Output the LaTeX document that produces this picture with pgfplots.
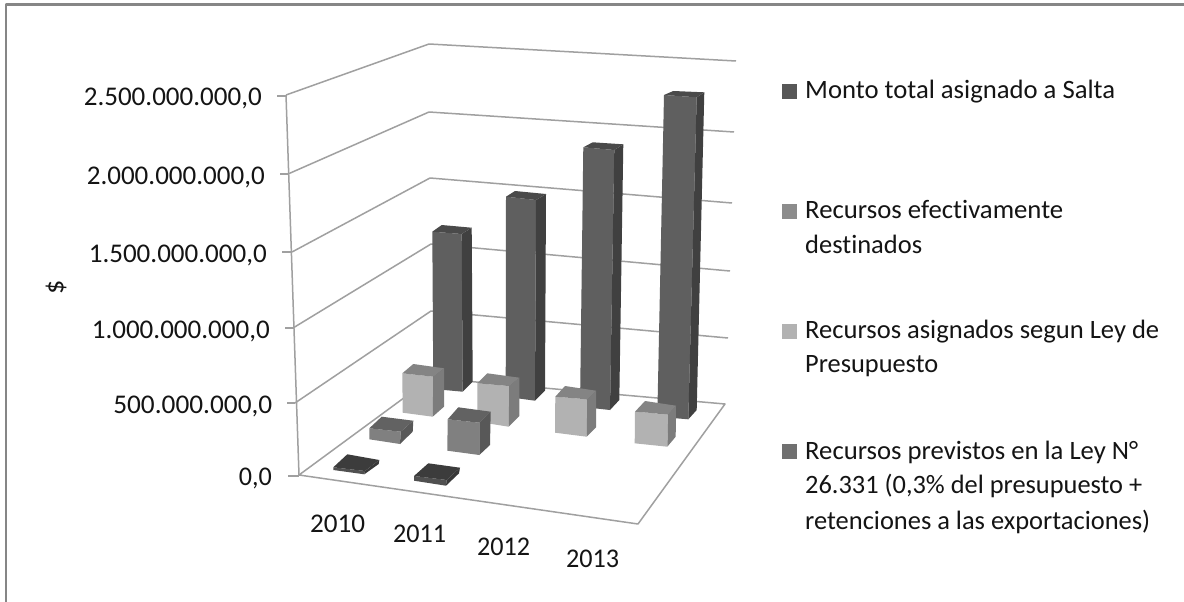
\documentclass[border=0pt]{standalone}
\usepackage{graphicx}
\usepackage{pgfplots}
\pgfplotsset{compat=1.18}
\usepackage{fontspec}
\setmainfont[Ligatures=CommonOff]{Carlito}
\definecolor{txt}{HTML}{141414}
\definecolor{gridc}{HTML}{A0A0A0}
\definecolor{framec}{HTML}{868686}
\definecolor{aF}{HTML}{5F5F5F}\definecolor{aS}{HTML}{404040}\definecolor{aT}{HTML}{4A4A4A}
\definecolor{bF}{HTML}{B2B2B2}\definecolor{bS}{HTML}{7C7C7C}\definecolor{bT}{HTML}{848484}
\definecolor{cF}{HTML}{808080}\definecolor{cS}{HTML}{585858}\definecolor{cT}{HTML}{626262}
\definecolor{dF}{HTML}{505050}\definecolor{dS}{HTML}{383838}\definecolor{dT}{HTML}{3C3C3C}
\newcommand{\lbl}[2]{\resizebox{#1pt}{\height}{\fontsize{27}{27}\selectfont #2}}
\newcommand{\leg}[2]{\resizebox{#1pt}{\height}{\fontsize{26.5}{26.5}\selectfont #2}}
\begin{document}
\begin{tikzpicture}
\begin{axis}[x=1pt,y=1pt,y dir=reverse,xmin=0,xmax=1184,ymin=0,ymax=602,hide axis,clip=true,scale only axis,
  every axis plot/.append style={line join=round}]
% page
\addplot[fill=white,draw=none] coordinates {(0,0)(1184,0)(1184,602)(0,602)} -- cycle;
% frame
\addplot[framec,line width=2.4pt] coordinates {(6,602)(6,4.5)(1184,4.5)};
% walls
\addplot[gridc,line width=1.5pt] coordinates {(286,95)(429,44)(736,61)};
\addplot[gridc,line width=1.5pt] coordinates {(288,174)(429,112)(734,132)};
\addplot[gridc,line width=1.5pt] coordinates {(292,252)(430,178)(732,203)};
\addplot[gridc,line width=1.5pt] coordinates {(293,328)(431,244)(730,271)};
\addplot[gridc,line width=1.5pt] coordinates {(295,403)(431,311)(728,338)};
\addplot[gridc,line width=1.5pt] coordinates {(299,475)(431,378)(725,404)(638,524)(299,475)};
\addplot[gridc,line width=1.5pt] coordinates {(286,95)(299,475)};
\addplot[gridc,line width=1.5pt] coordinates {(277,96)(286,96)};
\addplot[gridc,line width=1.5pt] coordinates {(280,174)(288,174)};
\addplot[gridc,line width=1.5pt] coordinates {(282,252)(292,252)};
\addplot[gridc,line width=1.5pt] coordinates {(285,328)(293,328)};
\addplot[gridc,line width=1.5pt] coordinates {(287,403)(295,403)};
\addplot[gridc,line width=1.5pt] coordinates {(288,476)(299,476)};
% series 1 tall bars
\addplot[fill=aF,draw=none] coordinates {(432.3,231.7)(461.7,234)(462.7,391.7)(433.3,389)} -- cycle;
\addplot[fill=aS,draw=none] coordinates {(461.7,234)(471.7,227.7)(472.7,381.7)(462.7,391.7)} -- cycle;
\addplot[fill=aT,draw=none] coordinates {(432.3,231.7)(441.7,225)(471.7,227.7)(461.7,234)} -- cycle;
\addplot[fill=aF,draw=none] coordinates {(506,196.7)(536,200)(535,400.7)(505.7,396.7)} -- cycle;
\addplot[fill=aS,draw=none] coordinates {(536,200)(546,194)(545,390.7)(535,400.7)} -- cycle;
\addplot[fill=aT,draw=none] coordinates {(506,196.7)(515,191)(546,194)(536,200)} -- cycle;
\addplot[fill=aF,draw=none] coordinates {(583.3,147.3)(614.3,150)(610,410)(580,406.7)} -- cycle;
\addplot[fill=aS,draw=none] coordinates {(614.3,150)(623.3,144.3)(619.3,400)(610,410)} -- cycle;
\addplot[fill=aT,draw=none] coordinates {(583.3,147.3)(592.7,142.3)(623.3,144.3)(614.3,150)} -- cycle;
\addplot[fill=aF,draw=none] coordinates {(664,95)(696.7,97.3)(688.3,419.3)(657.3,416.7)} -- cycle;
\addplot[fill=aS,draw=none] coordinates {(696.7,97.3)(704.3,92.3)(696.7,410)(688.3,419.3)} -- cycle;
\addplot[fill=aT,draw=none] coordinates {(664,95)(673.3,91)(704.3,92.3)(696.7,97.3)} -- cycle;
% series 2 light bars
\addplot[fill=bF,draw=none] coordinates {(402.3,373.3)(433.3,376.7)(432.7,416.7)(402.7,412.7)} -- cycle;
\addplot[fill=bS,draw=none] coordinates {(433.3,376.7)(444,368.3)(444,406.7)(432.7,416.7)} -- cycle;
\addplot[fill=bT,draw=none] coordinates {(402.3,373.3)(413.3,364)(444,368.3)(433.3,376.7)} -- cycle;
\addplot[fill=bF,draw=none] coordinates {(477.3,383.3)(509.3,386)(508.7,426.7)(477.3,421.7)} -- cycle;
\addplot[fill=bS,draw=none] coordinates {(509.3,386)(519.3,377.7)(519.3,416)(508.7,426.7)} -- cycle;
\addplot[fill=bT,draw=none] coordinates {(477.3,383.3)(487.3,373.3)(519.3,377.7)(509.3,386)} -- cycle;
\addplot[fill=bF,draw=none] coordinates {(555.3,396.7)(587.3,399.3)(586.7,436.7)(555,432.7)} -- cycle;
\addplot[fill=bS,draw=none] coordinates {(587.3,399.3)(596,390.7)(596,427.3)(586.7,436.7)} -- cycle;
\addplot[fill=bT,draw=none] coordinates {(555.3,396.7)(565,386)(596,390.7)(587.3,399.3)} -- cycle;
\addplot[fill=bF,draw=none] coordinates {(635,411.7)(668.3,414.3)(667.3,446.7)(634.7,443.3)} -- cycle;
\addplot[fill=bS,draw=none] coordinates {(668.3,414.3)(676,405.7)(675.7,436.7)(667.3,446.7)} -- cycle;
\addplot[fill=bT,draw=none] coordinates {(635,411.7)(645,401)(676,405.7)(668.3,414.3)} -- cycle;
% series 3 mid bars
\addplot[fill=cF,draw=none] coordinates {(369.3,428.3)(400.7,431.7)(400,444)(369.3,439.3)} -- cycle;
\addplot[fill=cS,draw=none] coordinates {(400.7,431.7)(413.3,420.7)(412.7,431.7)(400,444)} -- cycle;
\addplot[fill=cT,draw=none] coordinates {(369.3,428.3)(381.7,416.7)(413.3,420.7)(400.7,431.7)} -- cycle;
\addplot[fill=cF,draw=none] coordinates {(447.7,419.3)(479.3,422.7)(479.3,455)(447.3,450.7)} -- cycle;
\addplot[fill=cS,draw=none] coordinates {(479.3,422.7)(490.7,411.7)(490,445)(479.3,455)} -- cycle;
\addplot[fill=cT,draw=none] coordinates {(447.7,419.3)(458.3,407.3)(490.7,411.7)(479.3,422.7)} -- cycle;
% series 4 flat bars
\addplot[fill=dF,draw=none] coordinates {(333.3,467.3)(365,471)(364.3,474.3)(333.3,470)} -- cycle;
\addplot[fill=dS,draw=none] coordinates {(365,471)(379.3,460)(378.7,464)(364.3,474.3)} -- cycle;
\addplot[fill=dT,draw=none] coordinates {(333.3,467.3)(347.3,454.3)(379.3,460)(365,471)} -- cycle;
\addplot[fill=dF,draw=none] coordinates {(414,476)(446.7,480)(446,485.7)(414,480.7)} -- cycle;
\addplot[fill=dS,draw=none] coordinates {(446.7,480)(460,467.7)(459,473.3)(446,485.7)} -- cycle;
\addplot[fill=dT,draw=none] coordinates {(414,476)(428.3,463.3)(460,467.7)(446.7,480)} -- cycle;
% legend keys
\addplot[fill=aF!92!black,draw=none] coordinates {(782,84)(797,84)(797,99)(782,99)} -- cycle;
\addplot[fill=black!45,draw=none] coordinates {(782,204)(797,204)(797,219)(782,219)} -- cycle;
\addplot[fill=bF,draw=none] coordinates {(782,324)(797,324)(797,339)(782,339)} -- cycle;
\addplot[fill=black!56,draw=none] coordinates {(782,444)(797,444)(797,459)(782,459)} -- cycle;
% tick labels
\node[anchor=base east,text=txt,inner sep=0] at (axis cs:262,105) {\lbl{178}{2.500.000.000,0}};
\node[anchor=base east,text=txt,inner sep=0] at (axis cs:265,184) {\lbl{178}{2.000.000.000,0}};
\node[anchor=base east,text=txt,inner sep=0] at (axis cs:267,262) {\lbl{178}{1.500.000.000,0}};
\node[anchor=base east,text=txt,inner sep=0] at (axis cs:270,338) {\lbl{178}{1.000.000.000,0}};
\node[anchor=base east,text=txt,inner sep=0] at (axis cs:272.5,413) {\lbl{159}{500.000.000,0}};
\node[anchor=base east,text=txt,inner sep=0] at (axis cs:272,485) {\lbl{33}{0,0}};
\node[rotate=90,text=txt,inner sep=0] at (axis cs:56,287) {\fontsize{28}{28}\selectfont \$};
\node[anchor=base west,text=txt,inner sep=0] at (axis cs:310,532) {\lbl{55}{2010}};
\node[anchor=base west,text=txt,inner sep=0] at (axis cs:393,542) {\lbl{53}{2011}};
\node[anchor=base west,text=txt,inner sep=0] at (axis cs:477,555) {\lbl{53}{2012}};
\node[anchor=base west,text=txt,inner sep=0] at (axis cs:566,567) {\lbl{53}{2013}};
% legend text
\node[anchor=base west,text=txt,inner sep=0] at (axis cs:805,98) {\leg{310}{Monto total asignado a Salta}};
\node[anchor=base west,text=txt,inner sep=0] at (axis cs:805,218) {\leg{258}{Recursos efectivamente}};
\node[anchor=base west,text=txt,inner sep=0] at (axis cs:805,253) {\leg{117}{destinados}};
\node[anchor=base west,text=txt,inner sep=0] at (axis cs:805,338) {\leg{354}{Recursos asignados segun Ley de}};
\node[anchor=base west,text=txt,inner sep=0] at (axis cs:805,372) {\leg{133}{Presupuesto}};
\node[anchor=base west,text=txt,inner sep=0] at (axis cs:805,459) {\leg{333}{Recursos previstos en la Ley N°}};
\node[anchor=base west,text=txt,inner sep=0] at (axis cs:805,493) {\leg{337}{26.331 (0,3\% del presupuesto +}};
\node[anchor=base west,text=txt,inner sep=0] at (axis cs:805,529) {\leg{345}{retenciones a las exportaciones)}};
\end{axis}
\end{tikzpicture}
\end{document}
